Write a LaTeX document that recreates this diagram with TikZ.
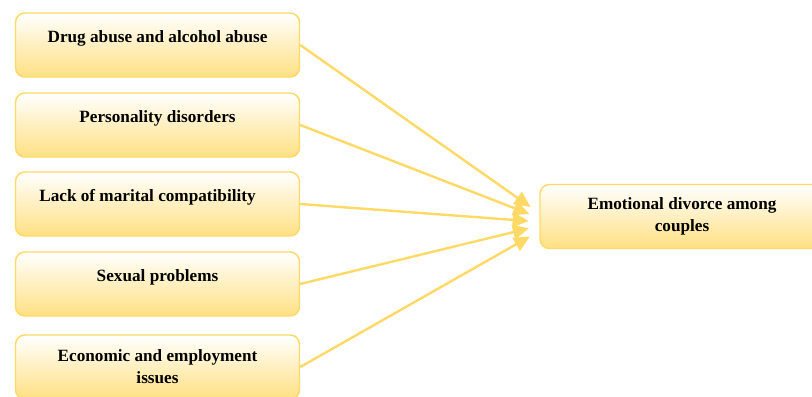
\documentclass[tikz,border=0pt]{standalone}
\usepackage{fontspec}
\setmainfont{Liberation Serif}
\usetikzlibrary{arrows.meta}
\definecolor{boxline}{RGB}{255,217,102}
\definecolor{boxfill}{RGB}{255,224,130}
\newcommand{\uptext}[1]{#1\\[-9pt]\strut}

\begin{document}
\begin{tikzpicture}[x=0.75pt,y=-0.75pt,
	every node/.style={font=\bfseries\fontsize{12.9}{16.5}\selectfont},
	cause/.style={draw=boxline,line width=1.1pt,rounded corners=7pt,
		top color=white,bottom color=boxfill,align=center,
		minimum width=213pt,minimum height=48pt,inner sep=2pt},
	link/.style={draw=boxline,line width=1.8pt,shorten >=8pt},
	>={Triangle[length=12pt,width=11pt]}]
	\useasboundingbox (0,0) rectangle (812,396);
	\node[cause] (1) at (157.5,45) {\uptext{Drug abuse and alcohol abuse}};
	\node[cause] (2) at (157.5,125) {\uptext{Personality disorders}};
	\node[cause] (3) at (157.5,204) {\uptext{Lack of marital compatibility\hspace*{15pt}}};
	\node[cause] (4) at (157.5,284) {\uptext{Sexual problems}};
	\node[cause] (5) at (157.5,367) {Economic and employment\\issues};
	\node[cause] (6) at (682,216.5) {Emotional divorce among\\couples};
	%
	\draw [->,link] (1.east) to ([yshift=2.5pt]6.west);
	\draw [->,link] (2.east) to ([yshift=-1pt]6.west);
	\draw [->,link] (3.east) to ([yshift=-4pt]6.west);
	\draw [->,link] (4.east) to ([yshift=-7pt]6.west);
	\draw [->,link] (5.east) to ([yshift=-11pt]6.west);
\end{tikzpicture}
\end{document}
